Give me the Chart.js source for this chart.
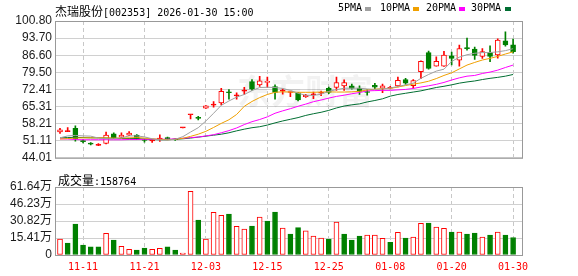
<!DOCTYPE html>
<html>
<head>
<meta charset="utf-8">
<script src="https://cdn.jsdelivr.net/npm/chart.js@4.4.1/dist/chart.umd.min.js"></script>
<style>
  body { margin: 0; background: #fff; }
  #wrap { position: relative; width: 578px; height: 276px; overflow: hidden; }
  canvas { position: absolute; left: 0; }
  .txt { position: absolute; white-space: nowrap; color: #000; line-height: 13px; }
  .cjk { font: 12px 'Noto Sans CJK SC'; }
  .mono { font: 10px 'DejaVu Sans Mono'; }
  .sq { position: absolute; width: 6px; height: 4px; top: 7px; }
</style>
</head>
<body>
<div id="wrap">
  <canvas id="price" width="578" height="168" style="top:0"></canvas>
  <canvas id="vol" width="578" height="108" style="top:168px"></canvas>
  <div class="txt" style="left:55px;top:2px"><span class="cjk">杰瑞股份</span><span class="mono">[002353] 2026-01-30 15:00</span></div>
  <div class="txt mono" style="left:338px;top:2px">5PMA</div><div class="sq" style="left:365px;background:#a0a0a0"></div>
  <div class="txt mono" style="left:380px;top:2px">10PMA</div><div class="sq" style="left:413px;background:#f0a000"></div>
  <div class="txt mono" style="left:426px;top:2px">20PMA</div><div class="sq" style="left:459px;background:#ff00ff"></div>
  <div class="txt mono" style="left:471px;top:2px">30PMA</div><div class="sq" style="left:505px;background:#006e32"></div>
  <div class="txt" style="left:58px;top:171px"><span class="cjk">成交量</span><span class="mono">:158764</span></div>
</div>
<script>
'use strict';

// trading days 2025-11-06 .. 2026-01-30
const dates = ['11-06','11-07','11-10','11-11','11-12','11-13','11-14','11-17','11-18','11-19',
  '11-20','11-21','11-24','11-25','11-26','11-27','11-28','12-01','12-02','12-03',
  '12-04','12-05','12-08','12-09','12-10','12-11','12-12','12-15','12-16','12-17',
  '12-18','12-19','12-22','12-23','12-24','12-25','12-26','12-29','12-30','12-31',
  '01-05','01-06','01-07','01-08','01-09','01-12','01-13','01-14','01-15','01-16',
  '01-19','01-20','01-21','01-22','01-23','01-26','01-27','01-28','01-29','01-30'];
const labelDates = ['11-11','11-21','12-03','12-15','12-25','01-08','01-20','01-30'];

const opens  = [54.8,54.9,56.2,51.2,50.0,49.2,50.0,54.0,52.6,53.4, 53.4,51.6,51.0,51.8,52.4,51.9,56.4,61.9,60.6,64.6,
  65.9,66.8,71.4,69.7,71.7,75.6,74.3,75.3,73.6,71.7, 71.1,71.0,69.4,70.2,70.8,72.9,73.2,73.9,73.9,72.8,
  71.3,74.1,72.9,72.9,73.9,76.5,74.0,79.8,87.7,82.1, 82.1,86.3,84.5,89.6,89.1,86.1,87.7,86.7,92.6,90.9];
const highs  = [56.2,56.6,57.3,51.6,50.3,49.9,54.7,54.4,54.4,54.9, 53.6,51.8,51.6,53.5,52.6,52.0,56.5,62.0,61.2,65.7,
  67.3,72.9,72.3,71.0,73.3,76.5,77.8,77.5,74.3,72.6, 71.3,71.2,70.4,71.3,71.7,73.4,77.5,76.4,74.6,73.9,
  72.3,74.9,74.6,73.7,77.5,77.0,76.5,84.3,88.3,85.9, 88.2,87.9,90.8,93.7,90.0,89.4,90.5,93.4,96.3,93.3];
const lows   = [54.1,54.9,50.9,50.2,49.4,49.0,49.8,52.0,52.4,53.2, 51.6,50.5,50.4,50.8,51.6,51.2,56.4,60.2,59.7,64.5,
  65.0,66.0,68.3,68.3,70.3,72.0,73.6,73.3,68.3,70.4, 69.4,67.6,69.1,68.6,69.8,70.6,72.0,72.0,72.5,70.3,
  70.0,72.7,71.0,72.6,73.4,74.5,72.9,76.9,80.8,82.0, 81.9,82.6,82.1,88.7,84.8,85.3,83.9,85.4,90.3,87.4];
const closes = [55.6,55.2,51.8,50.7,49.7,49.5,53.4,52.3,53.4,54.3, 51.8,51.2,51.3,52.1,52.0,51.5,56.5,62.0,60.4,65.6,
  66.3,71.6,71.0,70.0,72.0,72.5,76.0,75.7,71.2,72.0, 71.2,68.0,69.9,70.5,71.0,71.2,75.2,75.2,72.8,71.6,
  71.1,73.3,73.9,73.0,76.2,75.0,76.1,84.1,81.1,84.1, 86.7,85.3,89.4,89.3,86.5,88.1,86.1,92.9,90.9,88.1];

const ma5  = [52.3,53.1,53.3,53.1,53.0,52.2,51.9,51.9,52.3,53.1, 53.1,52.7,51.9,51.4,51.4,51.7,52.8,54.7,56.5,59.3,
  62.5,65.8,67.6,69.2,70.3,71.9,73.2,73.3,73.2,72.8, 72.0,70.8,70.0,69.9,70.4,71.6,72.3,72.9,72.9,72.9,
  72.6,72.4,72.6,73.0,73.6,74.3,75.0,77.0,78.6,80.0, 80.8,84.0,85.8,86.8,87.4,87.7,87.7,88.0,88.5,89.3];
const ma10 = [51.8,52.0,52.2,52.3,52.3,52.3,52.3,52.2,52.2,52.3, 52.4,52.2,51.9,51.7,51.5,51.7,52.1,52.9,53.8,55.0,
  56.6,58.3,59.8,62.0,65.4,67.4,69.0,70.3,71.2,71.4, 71.3,71.2,71.2,71.2,71.3,71.4,71.3,71.3,71.4,71.6,
  72.2,72.5,72.7,72.8,73.4,74.0,74.6,75.1,75.8,76.9, 78.2,79.3,80.9,82.5,83.6,84.6,85.3,86.1,87.1,88.0];
const ma20 = [51.9,51.8,51.6,51.5,51.5,51.5,51.5,51.5,51.5,51.6, 51.6,51.7,51.7,51.7,51.7,51.9,52.1,52.4,52.6,53.1,
  53.6,54.4,55.3,56.4,57.8,59.0,59.9,61.0,62.5,63.5, 64.4,65.4,66.3,67.3,68.0,68.8,69.5,70.0,70.6,71.1,
  71.8,71.9,72.0,72.0,72.2,72.4,72.8,73.4,73.9,74.5, 75.3,76.3,77.2,77.9,78.2,79.0,79.6,80.4,81.5,82.5];
const ma30 = [52.3,52.4,52.5,52.4,52.3,52.3,52.2,52.1,52.0,52.0, 52.0,51.8,51.6,51.5,51.5,51.7,51.9,52.2,52.6,53.0,
  53.4,53.8,54.4,55.2,55.9,56.5,56.9,57.6,58.5,59.3, 60.0,60.7,61.6,62.3,62.9,63.7,64.7,65.5,66.0,66.4,
  67.2,67.8,68.5,69.6,70.3,70.8,71.3,71.8,72.5,73.2, 73.7,74.3,75.0,75.5,75.9,76.5,77.0,77.4,77.9,78.6];

// volume in 万手, and its colour (1 = red, 0 = green)
const volumes = [14.5,10.9,28.1,9.1,7.3,7.3,19.6,13.6,7.9,5.1, 4.5,6.3,5.1,6.0,7.3,4.5,1.8,57.7,31.7,14.5,
  38.7,36.0,37.2,26.0,23.6,26.3,34.4,30.8,39.0,24.5, 19.0,24.8,21.8,17.2,15.4,14.5,29.9,19.0,13.6,17.2,
  18.1,18.1,15.1,11.5,20.5,15.4,16.3,28.7,29.0,25.4, 24.2,20.8,20.8,19.0,19.9,16.3,18.1,20.8,18.1,15.88];
const volUp = [1,0,0,0,0,0,1,0,1,1, 0,0,1,1,0,0,1,1,0,1, 1,1,0,1,1,0,1,0,0,1,
  0,0,1,1,1,0,1,0,0,0, 1,1,1,0,1,0,1,1,0,1, 1,0,1,0,0,1,0,1,0,0];

const priceTicks = [44.01, 51.11, 58.21, 65.31, 72.41, 79.50, 86.60, 93.70, 100.80];
const volTicks = [0, 15.41, 30.82, 46.23, 61.64];

const RED = '#ff0000', GREEN = '#008000';
const tickIdx = labelDates.map(d => dates.indexOf(d));
const up = i => closes[i] >= opens[i];

const frame = {
  id: 'frame',
  beforeDatasetsDraw(chart) {
    const { ctx, chartArea: a } = chart;
    ctx.save();
    ctx.strokeStyle = '#999';
    ctx.lineWidth = 1;
    ctx.strokeRect(a.left + 0.5, a.top + 0.5, a.right - a.left, a.bottom - a.top);
    ctx.restore();
  }
};

const watermark = {
  id: 'watermark',
  beforeDatasetsDraw(chart) {
    const ctx = chart.ctx;
    ctx.save();
    ctx.font = "bold 34px 'Noto Sans CJK SC'";
    ctx.fillStyle = 'rgba(0,0,0,0.05)';
    ctx.textBaseline = 'middle';
    ctx.fillText('东方财富', 237, 91);
    ctx.restore();
  }
};

function xScale(showLabels) {
  return {
    type: 'linear', bounds: 'data', min: -0.651, max: 60.16, offset: false,
    afterBuildTicks: s => { s.ticks = tickIdx.map(v => ({ value: v })); },
    afterFit: s => { s.height = showLabels ? 21 : 0; },
    grid: { color: '#c8c8c8', drawTicks: false, offset: false },
    border: { display: false, dash: [4, 3] },
    ticks: {
      display: showLabels, autoSkip: false, maxRotation: 0, padding: 6,
      color: RED, font: { family: "'DejaVu Sans Mono'", size: 10 },
      callback: v => dates[v] ?? ''
    }
  };
}

function yScale(min, max, values, fmt) {
  return {
    min, max,
    afterBuildTicks: s => { s.ticks = values.map(v => ({ value: v })); },
    afterFit: s => { s.width = 55; },
    grid: { color: '#d0d0d0', drawTicks: false },
    border: { display: false },
    ticks: {
      autoSkip: false, padding: 3, color: '#1a1a1a',
      font: { family: "'Liberation Sans', 'Noto Sans CJK SC'", size: 12 },
      callback: fmt
    }
  };
}

const maLine = (label, data, color) => ({
  type: 'line', label, data: data.map((y, x) => ({ x, y })),
  borderColor: color, borderWidth: 1, pointRadius: 0, tension: 0, order: 0
});

new Chart(document.getElementById('price'), {
  type: 'bar',
  data: {
    datasets: [
      maLine('MA5', ma5, '#a0a0a0'),
      maLine('MA10', ma10, '#f0a000'),
      maLine('MA20', ma20, '#ff00ff'),
      maLine('MA30', ma30, '#006e32'),
      {
        label: 'body',
        data: dates.map((d, i) => ({ x: i, y: [opens[i], closes[i]] })),
        backgroundColor: c => up(c.dataIndex) ? (Math.abs(closes[c.dataIndex] - opens[c.dataIndex]) < 0.4 ? RED : '#fff') : GREEN,
        borderColor: c => up(c.dataIndex) ? RED : GREEN,
        borderWidth: 1, borderSkipped: false, barThickness: 5, minBarLength: 1, grouped: false, order: 1
      },
      {
        label: 'wick',
        data: dates.map((d, i) => ({ x: i, y: [lows[i], highs[i]] })),
        backgroundColor: c => up(c.dataIndex) ? RED : GREEN,
        barThickness: 1, grouped: false, order: 2
      }
    ]
  },
  options: {
    responsive: false, animation: false, devicePixelRatio: 1,
    layout: { padding: { top: 21, right: 56, bottom: 3, left: 0 } },
    plugins: { legend: { display: false }, tooltip: { enabled: false } },
    scales: {
      x: xScale(false),
      y: yScale(44.01, 100.80, priceTicks, v => v.toFixed(2))
    }
  },
  plugins: [watermark, frame]
});

new Chart(document.getElementById('vol'), {
  type: 'bar',
  data: {
    datasets: [{
      label: 'vol',
      data: volumes.map((y, x) => ({ x, y })),
      backgroundColor: c => volUp[c.dataIndex] ? '#fff' : GREEN,
      borderColor: c => volUp[c.dataIndex] ? RED : GREEN,
      borderWidth: 1, borderSkipped: false, barThickness: 5, grouped: false
    }]
  },
  options: {
    responsive: false, animation: false, devicePixelRatio: 1,
    layout: { padding: { top: 19, right: 56, bottom: 0, left: 0 } },
    plugins: { legend: { display: false }, tooltip: { enabled: false } },
    scales: {
      x: xScale(true),
      y: yScale(0, 61.64, volTicks, v => v === 0 ? '0' : v.toFixed(2) + '万')
    }
  },
  plugins: [frame]
});
</script>
</body>
</html>
